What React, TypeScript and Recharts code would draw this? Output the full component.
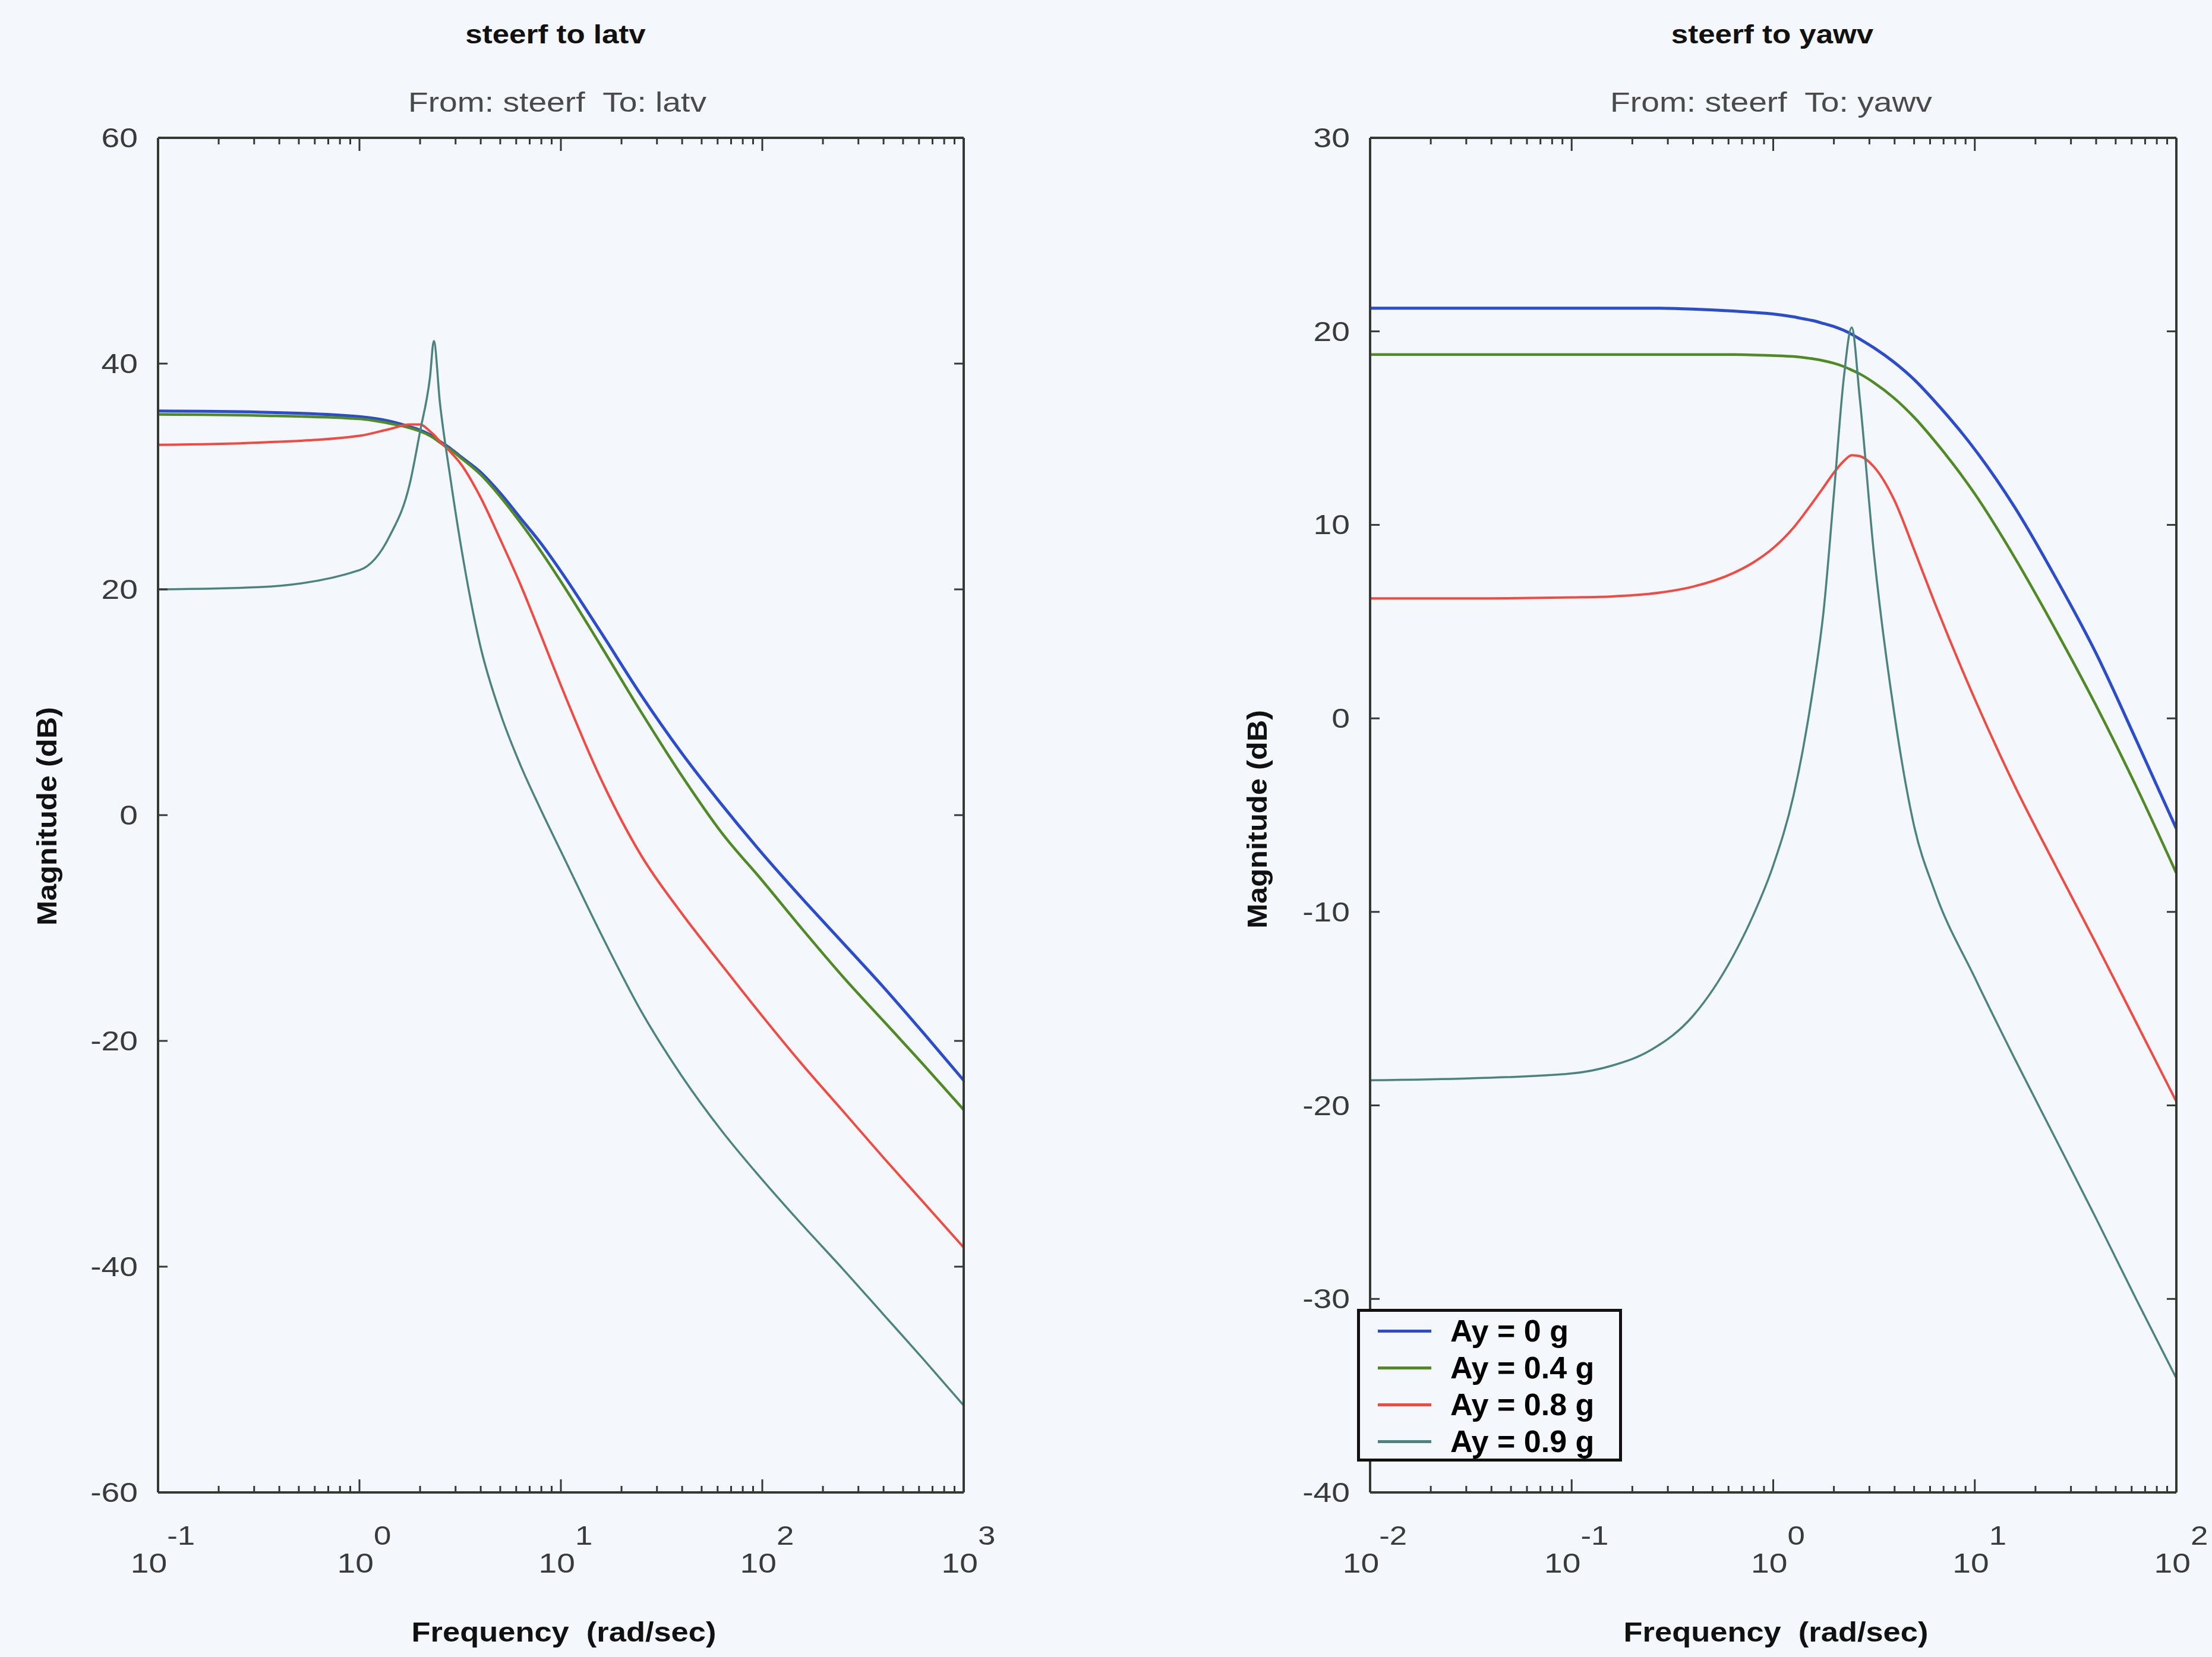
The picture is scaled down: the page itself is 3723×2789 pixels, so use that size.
import { Legend, Line, LineChart, XAxis, YAxis } from 'recharts';

const BG = '#f4f7fb';
const FONT = '"Liberation Sans", Arial, Helvetica, sans-serif';
const AXIS = '#363834';
const TICK_TEXT = '#3a3a3a';

// series names and colours (legend order)
const seriesNames = ['Ay = 0 g', 'Ay = 0.4 g', 'Ay = 0.8 g', 'Ay = 0.9 g'];
const seriesKeys = ['a0', 'a4', 'a8', 'a9'];
const seriesColors = ['#2b4ccc', '#4f8a26', '#f04a43', '#4a837f'];
const seriesWidths = [5, 4.5, 4, 3.5];

// steerf -> latv, frequency in rad/sec, magnitude in dB
const latvFreq = [0.1, 0.316, 1, 1.41, 1.78, 2, 2.24, 2.34, 2.51, 2.82, 3.16, 3.98, 5.01, 6.31, 7.94, 10, 15.8, 25.1, 39.8, 63.1, 100, 158, 251, 398, 631, 1000];
const latvAy0 = [35.8, 35.7, 35.3, 34.9, 34.4, 34.1, 33.7, 33.5, 33.1, 32.5, 31.8, 30.4, 28.5, 26.3, 24.1, 21.6, 16.2, 10.6, 5.5, 0.9, -3.4, -7.4, -11.3, -15.2, -19.3, -23.5];
const latvAy4 = [35.5, 35.4, 35.1, 34.7, 34.3, 34.0, 33.6, 33.4, 33.0, 32.4, 31.7, 30.2, 28.2, 25.9, 23.4, 20.7, 15.0, 9.1, 3.5, -1.6, -5.8, -10.1, -14.3, -18.2, -22.1, -26.1];
const latvAy8 = [32.8, 33.0, 33.6, 34.2, 34.6, 34.6, 34.0, 33.7, 33.1, 32.2, 31.2, 28.2, 24.4, 20.4, 16.0, 11.5, 3.2, -3.6, -8.7, -13.3, -17.8, -22.1, -26.2, -30.3, -34.3, -38.3];
const latvAy9 = [20.0, 20.2, 21.7, 24.7, 29.4, 34.0, 38.8, 42.0, 36.5, 30.0, 24.3, 15.0, 9.0, 4.4, 0.5, -3.2, -10.5, -17.4, -23.1, -28.0, -32.3, -36.3, -40.2, -44.2, -48.2, -52.3];

// steerf -> yawv
const yawvFreq = [0.01, 0.0316, 0.1, 0.158, 0.251, 0.398, 0.631, 0.794, 1, 1.26, 1.41, 1.58, 1.78, 2, 2.24, 2.45, 2.69, 3.16, 3.98, 5.01, 6.31, 10, 15.8, 25.1, 39.8, 63.1, 100];
const yawvAy0 = [21.2, 21.2, 21.2, 21.2, 21.2, 21.15, 21.05, 20.98, 20.9, 20.75, 20.65, 20.55, 20.4, 20.25, 20.05, 19.85, 19.6, 19.15, 18.4, 17.5, 16.4, 13.9, 10.9, 7.3, 3.4, -1.1, -5.7];
const yawvAy4 = [18.8, 18.8, 18.8, 18.8, 18.8, 18.8, 18.8, 18.78, 18.75, 18.7, 18.65, 18.58, 18.48, 18.35, 18.18, 18.0, 17.8, 17.35, 16.55, 15.55, 14.35, 11.6, 8.3, 4.6, 0.7, -3.5, -8.0];
const yawvAy8 = [6.2, 6.2, 6.25, 6.3, 6.45, 6.8, 7.5, 8.05, 8.8, 9.85, 10.5, 11.2, 11.95, 12.7, 13.3, 13.6, 13.55, 13.0, 11.3, 8.7, 6.0, 1.0, -3.5, -7.6, -11.6, -15.7, -19.8];
const yawvAy9 = [-18.7, -18.6, -18.35, -17.95, -17.1, -15.4, -12.3, -10.2, -7.6, -4.0, -1.5, 1.6, 5.6, 11.6, 17.6, 20.2, 16.5, 8.5, 0.3, -5.6, -8.9, -13.4, -17.6, -21.7, -25.8, -30.0, -34.1];

// axes
const latvDecades = [0.1, 1, 10, 100, 1000];
const yawvDecades = [0.01, 0.1, 1, 10, 100];
const latvYTicks = [-60, -40, -20, 0, 20, 40, 60];
const yawvYTicks = [-40, -30, -20, -10, 0, 10, 20, 30];

function logTicks(decades: number[]) {
    const out: number[] = [];
    decades.slice(0, -1).forEach((d) => {
        for (let m = 1; m < 10; m++) out.push(m * d);
    });
    out.push(decades[decades.length - 1]);
    return out;
}

function buildRows(freq: number[], cols: number[][]) {
    return freq.map((f, i) => ({ f, a0: cols[0][i], a4: cols[1][i], a8: cols[2][i], a9: cols[3][i] }));
}

const latvRows = buildRows(latvFreq, [latvAy0, latvAy4, latvAy8, latvAy9]);
const yawvRows = buildRows(yawvFreq, [yawvAy0, yawvAy4, yawvAy8, yawvAy9]);

const axisLine = { stroke: AXIS, strokeWidth: 4 };

function isMajor(v: number) {
    const lg = Math.log10(v);
    return Math.abs(lg - Math.round(lg)) < 1e-6;
}

function BottomTick(props: any) {
    const { x, y, payload } = props;
    const major = isMajor(payload.value);
    const len = major ? 22 : 11;
    return (
        <g>
            <line x1={x} x2={x} y1={y} y2={y - len} stroke={AXIS} strokeWidth={3} />
            {major ? (
                <text
                    transform={`translate(${x + 8} ${y + 135}) scale(1.2 1)`}
                    textAnchor="middle"
                    fontSize={46}
                    fontFamily={FONT}
                    fill={TICK_TEXT}
                >
                    <tspan>10</tspan>
                    <tspan dy={-47} fontSize={44}>
                        {Math.round(Math.log10(payload.value))}
                    </tspan>
                </text>
            ) : null}
        </g>
    );
}

function TopTick(props: any) {
    const { x, y, payload } = props;
    const len = isMajor(payload.value) ? 22 : 11;
    return <line x1={x} x2={x} y1={y} y2={y + len} stroke={AXIS} strokeWidth={3} />;
}

function LeftTick(props: any) {
    const { x, y, payload } = props;
    return (
        <g>
            <line x1={x} x2={x + 16} y1={y} y2={y} stroke={AXIS} strokeWidth={3} />
            <text
                transform={`translate(${x - 34} ${y + 16}) scale(1.2 1)`}
                textAnchor="end"
                fontSize={46}
                fontFamily={FONT}
                fill={TICK_TEXT}
            >
                {payload.value}
            </text>
        </g>
    );
}

function RightTick(props: any) {
    const { x, y } = props;
    return <line x1={x} x2={x - 16} y1={y} y2={y} stroke={AXIS} strokeWidth={3} />;
}

function LegendBox() {
    return (
        <div
            style={{
                width: 446,
                height: 257,
                boxSizing: 'border-box',
                border: '5px solid #111',
                background: BG,
                fontFamily: FONT,
            }}
        >
            {seriesNames.map((name, i) => (
                <div key={name} style={{ position: 'relative', height: 62, marginTop: i === 0 ? 1 : 0 }}>
                    <div
                        style={{
                            position: 'absolute',
                            left: 30,
                            top: 29,
                            width: 90,
                            height: 5,
                            background: seriesColors[i],
                        }}
                    />
                    <div
                        style={{
                            position: 'absolute',
                            left: 152,
                            top: 0,
                            lineHeight: '62px',
                            fontSize: 52,
                            fontWeight: 700,
                            color: '#000',
                            whiteSpace: 'pre',
                        }}
                    >
                        {name}
                    </div>
                </div>
            ))}
        </div>
    );
}

type PanelProps = {
    rows: Record<string, number>[];
    decades: number[];
    yTicks: number[];
    width: number;
    leftW: number;
    rightW: number;
    withLegend?: boolean;
    legendLeft?: number;
};

function BodePanel({ rows, decades, yTicks, width, leftW, rightW, withLegend, legendLeft }: PanelProps) {
    const xDomain = [decades[0], decades[decades.length - 1]];
    const yDomain = [yTicks[0], yTicks[yTicks.length - 1]];
    const xTicks = logTicks(decades);
    return (
        <LineChart width={width} height={2789} data={rows} margin={{ top: 0, right: 0, bottom: 0, left: 0 }}>
            <XAxis
                xAxisId="b"
                dataKey="f"
                type="number"
                scale="log"
                domain={xDomain}
                ticks={xTicks}
                interval={0}
                allowDataOverflow
                height={277}
                tickSize={0}
                tickMargin={0}
                tickLine={false}
                axisLine={axisLine}
                tick={BottomTick}
            />
            <XAxis
                xAxisId="t"
                orientation="top"
                dataKey="f"
                type="number"
                scale="log"
                domain={xDomain}
                ticks={xTicks}
                interval={0}
                allowDataOverflow
                height={232}
                tickSize={0}
                tickMargin={0}
                tickLine={false}
                axisLine={axisLine}
                tick={TopTick}
            />
            <YAxis
                yAxisId="l"
                type="number"
                domain={yDomain}
                ticks={yTicks}
                interval={0}
                allowDataOverflow
                width={leftW}
                tickSize={0}
                tickMargin={0}
                tickLine={false}
                axisLine={axisLine}
                tick={LeftTick}
            />
            <YAxis
                yAxisId="r"
                orientation="right"
                type="number"
                domain={yDomain}
                ticks={yTicks}
                interval={0}
                allowDataOverflow
                width={rightW}
                tickSize={0}
                tickMargin={0}
                tickLine={false}
                axisLine={axisLine}
                tick={RightTick}
            />
            {seriesKeys.map((k, i) => (
                <Line
                    key={k}
                    xAxisId="b"
                    yAxisId="l"
                    type="monotone"
                    dataKey={k}
                    name={seriesNames[i]}
                    stroke={seriesColors[i]}
                    strokeWidth={seriesWidths[i]}
                    dot={false}
                    activeDot={false}
                    isAnimationActive={false}
                />
            ))}
            {withLegend ? (
                <Legend
                    layout="vertical"
                    align="center"
                    verticalAlign="middle"
                    wrapperStyle={{ left: legendLeft, top: 2203, width: 446, height: 257 }}
                    content={() => <LegendBox />}
                />
            ) : null}
        </LineChart>
    );
}

function StretchText({
    x,
    y,
    sx,
    size,
    weight,
    color,
    children,
    rotate,
}: {
    x: number;
    y: number;
    sx: number;
    size: number;
    weight?: number;
    color: string;
    children: string;
    rotate?: boolean;
}) {
    const t = rotate ? `translate(${x} ${y}) rotate(-90) scale(${sx} 1)` : `translate(${x} ${y}) scale(${sx} 1)`;
    return (
        <text
            transform={t}
            textAnchor="middle"
            fontSize={size}
            fontWeight={weight ?? 400}
            fontFamily={FONT}
            fill={color}
            style={{ whiteSpace: 'pre' }}
        >
            {children}
        </text>
    );
}

export default function App() {
    return (
        <div style={{ position: 'relative', width: 3723, height: 2789, background: BG, overflow: 'hidden' }}>
            <style>{`body{margin:0;background:${BG};}`}</style>
            <div style={{ position: 'absolute', left: 0, top: 0 }}>
                <BodePanel rows={latvRows} decades={latvDecades} yTicks={latvYTicks} width={1862} leftW={266} rightW={240} />
            </div>
            <div style={{ position: 'absolute', left: 1862, top: 0 }}>
                <BodePanel
                    rows={yawvRows}
                    decades={yawvDecades}
                    yTicks={yawvYTicks}
                    width={1861}
                    leftW={444}
                    rightW={60}
                    withLegend
                    legendLeft={422}
                />
            </div>
            <svg
                width={3723}
                height={2789}
                style={{ position: 'absolute', left: 0, top: 0, pointerEvents: 'none' }}
            >
                <StretchText x={935} y={73} sx={1.16} size={44} weight={700} color="#111">
                    steerf to latv
                </StretchText>
                <StretchText x={938} y={188} sx={1.2} size={46} color="#4a4a4a">
                    From: steerf  To: latv
                </StretchText>
                <StretchText x={2983} y={73} sx={1.16} size={44} weight={700} color="#111">
                    steerf to yawv
                </StretchText>
                <StretchText x={2981} y={188} sx={1.2} size={46} color="#4a4a4a">
                    From: steerf  To: yawv
                </StretchText>
                <StretchText x={95} y={1374} sx={1.1} size={46} weight={700} color="#111" rotate>
                    Magnitude (dB)
                </StretchText>
                <StretchText x={2132} y={1379} sx={1.1} size={46} weight={700} color="#111" rotate>
                    Magnitude (dB)
                </StretchText>
                <StretchText x={949} y={2763} sx={1.14} size={46} weight={700} color="#111">
                    Frequency  (rad/sec)
                </StretchText>
                <StretchText x={2989} y={2763} sx={1.14} size={46} weight={700} color="#111">
                    Frequency  (rad/sec)
                </StretchText>
            </svg>
        </div>
    );
}
